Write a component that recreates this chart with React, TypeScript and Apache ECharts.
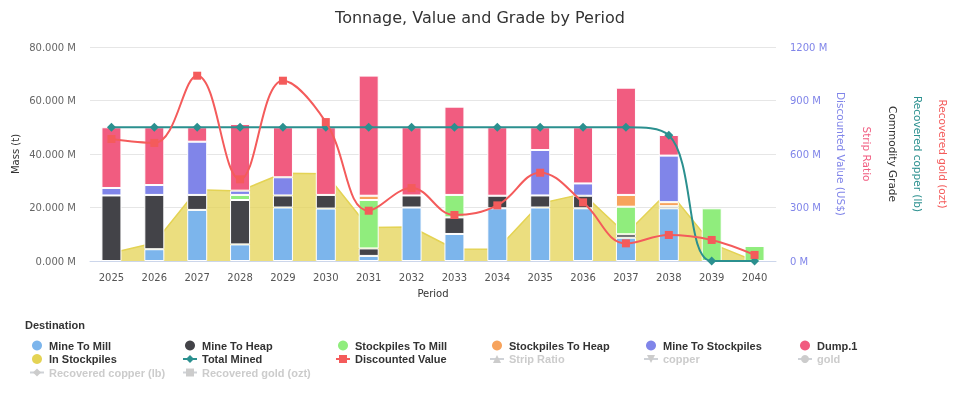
import React, { useEffect, useRef } from "react";
import * as echarts from "echarts";

const categories = ["2025", "2026", "2027", "2028", "2029", "2030", "2031", "2032", "2033", "2034", "2035", "2036", "2037", "2038", "2039", "2040"];
const mineToMill = [0, 4.4, 19.1, 6.2, 20, 19.6, 1.9, 20, 10.1, 19.7, 20, 19.7, 8.7, 19.7, 0, 0];
const mineToHeap = [24.5, 20.3, 5.6, 16.6, 4.5, 5.1, 2.8, 4.5, 6.2, 4.7, 4.5, 4.7, 1.3, 0.8, 0, 0];
const stockpilesToMill = [0, 0, 0, 1.9, 0, 0, 18.1, 0, 8.4, 0, 0, 0, 10.3, 0, 19.7, 5.6];
const stockpilesToHeap = [0, 0, 0, 0, 0, 0, 1.6, 0, 0, 0, 0, 0, 4.4, 1.5, 0, 0];
const mineToStockpiles = [2.8, 3.7, 19.9, 1.6, 6.8, 0, 0, 0, 0, 0, 17, 4.6, 0, 17.4, 0, 0];
const dump1 = [22.7, 21.6, 5.4, 24.9, 18.7, 25.3, 44.9, 25.5, 33, 25.6, 8.5, 21, 40.1, 7.7, 0, 0];
const inStockpiles = [3.0, 6.7, 26.6, 26.2, 32.8, 32.6, 12.5, 12.7, 4.5, 4.4, 21.5, 25.1, 10.1, 26.2, 6.5, 0];
const totalMined = [50, 50, 50, 50, 50, 50, 50, 50, 50, 50, 50, 50, 50, 47, 0, 0];
const discountedValue = [684, 662, 1039, 458, 1011, 779, 282, 409, 258, 312, 495, 329, 99, 146, 118, 34];
const stripRatio: number[] = [];
const copper: number[] = [];
const gold: number[] = [];
const recoveredCopper: number[] = [];
const recoveredGold: number[] = [];
const massTicks = [0, 20, 40, 60, 80];
const valueTicks = [0, 300, 600, 900, 1200];

const FONT = "DejaVu Sans";
const LEGEND_FONT = "Liberation Sans";

export default function App() {
  const ref = useRef<HTMLDivElement>(null);
  useEffect(() => {
    if (!ref.current) return;
    const chart = echarts.init(ref.current, null, { renderer: "svg" });
    const nz = (arr: number[]) => arr.map((v) => (v === 0 ? "-" : v));
    const barBase = {
      type: "bar",
      stack: "mass",
      barWidth: 20,
      itemStyle: { borderColor: "#fff", borderWidth: 1 },
    };
    const hidden: Record<string, boolean> = {
      "Strip Ratio": false,
      copper: false,
      gold: false,
      "Recovered copper (lb)": false,
      "Recovered gold (ozt)": false,
    };
    const circleNames = ["Mine To Mill", "Mine To Heap", "Stockpiles To Mill", "Stockpiles To Heap", "Mine To Stockpiles", "Dump.1", "In Stockpiles"];
    const columns = [
      ["Mine To Mill", "In Stockpiles", "Recovered copper (lb)"],
      ["Mine To Heap", "Total Mined", "Recovered gold (ozt)"],
      ["Stockpiles To Mill", "Discounted Value"],
      ["Stockpiles To Heap", "Strip Ratio"],
      ["Mine To Stockpiles", "copper"],
      ["Dump.1", "gold"],
    ];
    const lefts = [29, 182, 335, 489, 643, 797];
    const legends = columns.map((col, i) => ({
      orient: "vertical",
      left: lefts[i],
      top: 340,
      padding: 0,
      itemWidth: 14,
      itemHeight: 10,
      itemGap: 2.5,
      inactiveColor: "#ccc",
      selected: hidden,
      itemStyle: { borderWidth: 0 },
      textStyle: { fontFamily: LEGEND_FONT, fontWeight: "bold", fontSize: 11, color: "#333" },
      data: col.map((n) => (circleNames.includes(n) ? { name: n, icon: "circle" } : { name: n })),
    }));
    const rightTitles = [
      { text: "Discounted Value (US$)", x: 841, color: "#8085e9" },
      { text: "Strip Ratio", x: 867, color: "#f15c80" },
      { text: "Commodity Grade", x: 893, color: "#333333" },
      { text: "Recovered copper (lb)", x: 918, color: "#2b908f" },
      { text: "Recovered gold (ozt)", x: 943, color: "#f45b5b" },
    ];
    chart.setOption({
      animation: false,
      title: {
        text: "Tonnage, Value and Grade by Period",
        left: "center",
        top: 4,
        textStyle: { fontFamily: FONT, fontSize: 16, fontWeight: "normal", color: "#333" },
      },
      grid: { left: 90, right: 184, top: 47, bottom: 135 },
      legend: legends,
      graphic: [
        {
          type: "text",
          x: 25,
          y: 325,
          style: { text: "Destination", fontFamily: LEGEND_FONT, fontWeight: "bold", fontSize: 11, fill: "#333", textVerticalAlign: "middle" },
        },
        {
          type: "text",
          x: 15,
          y: 154,
          rotation: Math.PI / 2,
          style: { text: "Mass (t)", fontFamily: FONT, fontSize: 10, fill: "#333", textAlign: "center", textVerticalAlign: "middle" },
        },
        ...rightTitles.map((t) => ({
          type: "text",
          x: t.x,
          y: 154,
          rotation: -Math.PI / 2,
          style: { text: t.text, fontFamily: FONT, fontSize: 10.5, fill: t.color, textAlign: "center", textVerticalAlign: "middle" },
        })),
      ],
      xAxis: {
        type: "category",
        data: categories,
        axisLine: { lineStyle: { color: "#ccd6eb" } },
        axisTick: { show: false },
        axisLabel: { fontFamily: FONT, fontSize: 10, color: "#555", margin: 11 },
        name: "Period",
        nameLocation: "middle",
        nameGap: 27,
        nameTextStyle: { fontFamily: FONT, fontSize: 10, color: "#333" },
      },
      yAxis: [
        {
          type: "value",
          min: massTicks[0],
          max: massTicks[massTicks.length - 1],
          interval: 20,
          splitLine: { lineStyle: { color: "#e6e6e6" } },
          axisLabel: { fontFamily: FONT, fontSize: 10, color: "#666", margin: 14, formatter: (v: number) => v.toFixed(3) + " M" },
        },
        {
          type: "value",
          position: "right",
          min: valueTicks[0],
          max: valueTicks[valueTicks.length - 1],
          interval: 300,
          splitLine: { show: false },
          axisLabel: { fontFamily: FONT, fontSize: 10, color: "#8085e9", margin: 14, formatter: (v: number) => v + " M" },
        },
      ],
      series: [
        {
          name: "In Stockpiles",
          type: "line",
          z: 1,
          data: inStockpiles,
          showSymbol: false,
          symbol: "circle",
          color: "#e4d354",
          lineStyle: { width: 1.5, color: "#e4d354" },
          areaStyle: { color: "#e4d354", opacity: 0.75 },
        },
        { ...barBase, name: "Mine To Mill", color: "#7cb5ec", data: nz(mineToMill) },
        { ...barBase, name: "Mine To Heap", color: "#434348", data: nz(mineToHeap) },
        { ...barBase, name: "Stockpiles To Mill", color: "#90ed7d", data: nz(stockpilesToMill) },
        { ...barBase, name: "Stockpiles To Heap", color: "#f7a35c", data: nz(stockpilesToHeap) },
        { ...barBase, name: "Mine To Stockpiles", color: "#8085e9", data: nz(mineToStockpiles) },
        { ...barBase, name: "Dump.1", color: "#f15c80", data: nz(dump1) },
        {
          name: "Total Mined",
          type: "line",
          z: 5,
          data: totalMined,
          smooth: 0.4,
          symbol: "diamond",
          symbolSize: 9,
          color: "#2b908f",
          lineStyle: { width: 2 },
        },
        {
          name: "Discounted Value",
          type: "line",
          yAxisIndex: 1,
          z: 6,
          data: discountedValue,
          smooth: 0.4,
          symbol: "rect",
          symbolSize: 8,
          color: "#f45b5b",
          lineStyle: { width: 2 },
        },
        { name: "Strip Ratio", type: "line", data: stripRatio, symbol: "triangle", color: "#91e8e1" },
        { name: "copper", type: "line", data: copper, symbol: "triangle", symbolRotate: 180, color: "#7cb5ec" },
        { name: "gold", type: "line", data: gold, symbol: "circle", color: "#434348" },
        { name: "Recovered copper (lb)", type: "line", data: recoveredCopper, symbol: "diamond", color: "#90ed7d" },
        { name: "Recovered gold (ozt)", type: "line", data: recoveredGold, symbol: "rect", color: "#f7a35c" },
      ],
    });
    return () => chart.dispose();
  }, []);
  return <div ref={ref} style={{ position: "fixed", left: 0, top: 0, width: 960, height: 396 }} />;
}
